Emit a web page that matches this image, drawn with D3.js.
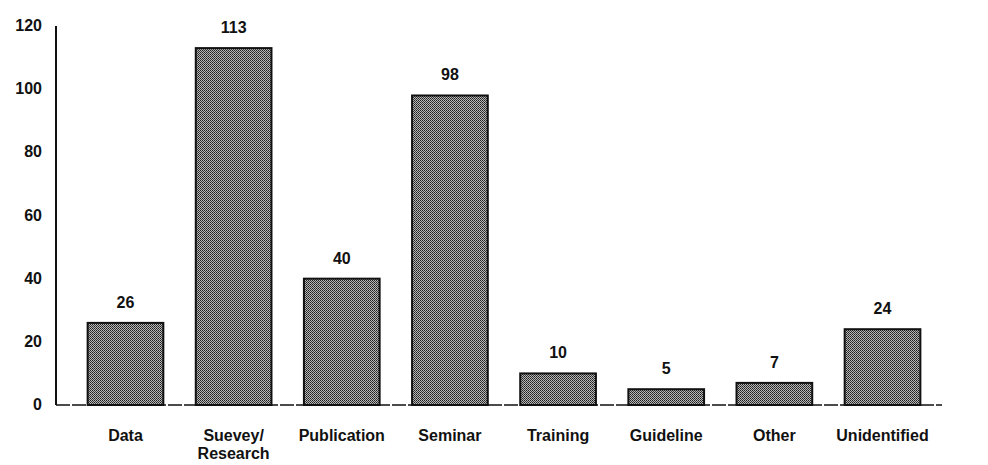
<!DOCTYPE html>
<html>
<head>
<meta charset="utf-8">
<script src="https://cdn.jsdelivr.net/npm/d3@7/dist/d3.min.js"></script>
<style>
  html, body { margin: 0; padding: 0; background: #fff; }
  svg text { font-family: "Liberation Sans", Arial, sans-serif; fill: #111; }
</style>
</head>
<body>
<div id="chart"></div>
<script>
// 数据
const categories = ['Data', 'Suevey/\nResearch', 'Publication', 'Seminar', 'Training', 'Guideline', 'Other', 'Unidentified'];
const counts = [26, 113, 40, 98, 10, 5, 7, 24];
const yTicks = [0, 20, 40, 60, 80, 100, 120];

const width = 988, height = 465;
const margin = { top: 26, right: 46, bottom: 60, left: 66 };

const svg = d3.select('#chart').append('svg')
    .attr('width', width)
    .attr('height', height);

// 网点填充
const defs = svg.append('defs');
const pat = defs.append('pattern')
    .attr('id', 'dots')
    .attr('width', 2).attr('height', 2)
    .attr('patternUnits', 'userSpaceOnUse');
pat.append('rect').attr('width', 2).attr('height', 2).attr('fill', '#b8b8b8');
pat.append('rect').attr('width', 1).attr('height', 1).attr('fill', '#1e1e1e');
pat.append('rect').attr('x', 1).attr('y', 1).attr('width', 1).attr('height', 1).attr('fill', '#3c3c3c');

const x = d3.scaleBand()
    .domain(categories)
    .range([margin.left, width - margin.right])
    .paddingInner(0.3)
    .paddingOuter(0.2);

const y = d3.scaleLinear()
    .domain([0, 120])
    .range([height - margin.bottom, margin.top]);

// y 轴
svg.append('line')
    .attr('x1', 56).attr('x2', 56)
    .attr('y1', y(120)).attr('y2', y(0))
    .attr('stroke', '#111').attr('stroke-width', 2);

svg.append('g').selectAll('text')
    .data(yTicks)
    .enter().append('text')
    .attr('x', 42)
    .attr('y', d => y(d) + 5)
    .attr('text-anchor', 'end')
    .attr('font-size', 16)
    .attr('font-weight', 'bold')
    .text(d => d);

// 基线
svg.append('line')
    .attr('x1', 56).attr('x2', width - margin.right)
    .attr('y1', y(0)).attr('y2', y(0))
    .attr('stroke', '#111').attr('stroke-width', 1.5)
    .attr('stroke-dasharray', '14,2');

// 柱子
svg.append('g').selectAll('rect')
    .data(counts)
    .enter().append('rect')
    .attr('x', (d, i) => x(categories[i]))
    .attr('y', d => y(d))
    .attr('width', x.bandwidth())
    .attr('height', d => y(0) - y(d))
    .attr('fill', 'url(#dots)')
    .attr('stroke', '#111')
    .attr('stroke-width', 2);

// 数值标签
svg.append('g').selectAll('text')
    .data(counts)
    .enter().append('text')
    .attr('x', (d, i) => x(categories[i]) + x.bandwidth() / 2)
    .attr('y', d => y(d) - 15)
    .attr('text-anchor', 'middle')
    .attr('font-size', 16)
    .attr('font-weight', 'bold')
    .text(d => d);

// 分类标签
const xl = svg.append('g').selectAll('text')
    .data(categories)
    .enter().append('text')
    .attr('x', d => x(d) + x.bandwidth() / 2)
    .attr('y', 441)
    .attr('text-anchor', 'middle')
    .attr('font-size', 16)
    .attr('font-weight', 'bold');

xl.each(function(d) {
    const lines = d.split('\n');
    const t = d3.select(this);
    lines.forEach((s, k) => {
        t.append('tspan')
            .attr('x', x(d) + x.bandwidth() / 2)
            .attr('dy', k === 0 ? 0 : 18)
            .text(s);
    });
});
</script>
</body>
</html>
